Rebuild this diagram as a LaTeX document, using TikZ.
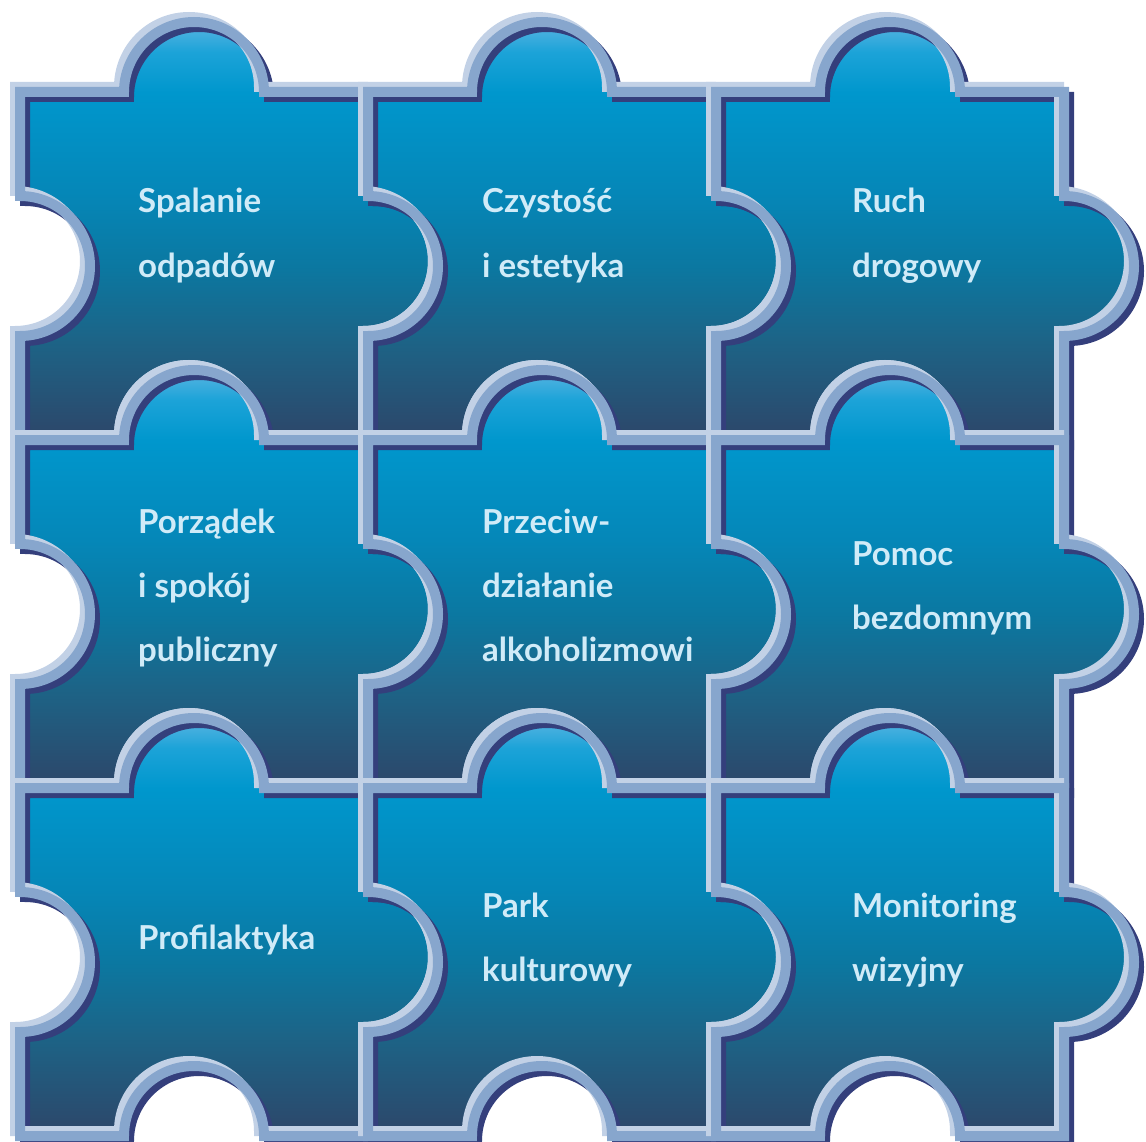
\documentclass[tikz,border=0pt]{standalone}
\usepackage{fontspec}
\setmainfont{Lato}
\definecolor{bdlight}{HTML}{C2D1E6}
\definecolor{bdmid}{HTML}{87A6CD}
\definecolor{bddark}{HTML}{343F7C}
\definecolor{pknob}{HTML}{5AB5E2}
\definecolor{pknobb}{HTML}{1CA3D8}
\definecolor{ptop}{HTML}{0097CD}
\definecolor{pupper}{HTML}{0587B8}
\definecolor{pmid}{HTML}{0B78A1}
\definecolor{plow}{HTML}{1D6386}
\definecolor{pbot}{HTML}{2D4669}
\definecolor{txt}{HTML}{D0EBF8}
\pgfdeclareverticalshading{pzshade}{100bp}{color(0bp)=(pbot); color(25bp)=(pbot); color(36.7bp)=(plow); color(45.8bp)=(pmid); color(54.7bp)=(pupper); color(66.6bp)=(ptop); color(71.4bp)=(pknobb); color(75bp)=(pknob); color(100bp)=(pknob)}
\newcommand\pzpath[2]{(#1,#2) -- ++(104,0) arc[start angle=180,end angle=0,radius=70] -- ++(104,0) -- ++(0,-104) arc[start angle=90,end angle=-90,radius=70] -- ++(0,-104) -- ++(-104,0) arc[start angle=0,end angle=180,radius=70] -- ++(-104,0) -- ++(0,104) arc[start angle=-90,end angle=90,radius=70] -- cycle}
\tikzset{
  bdk/.style={draw=bddark, line width=10pt, line join=miter},
  blt/.style={draw=bdlight, line width=10pt, line join=miter},
  bmd/.style={draw=bdmid, line width=10pt, line join=miter},
  lbl/.style={text=txt, font=\fontsize{33}{33}\selectfont\bfseries, inner sep=0pt, anchor=base west}
}
\begin{document}
\begin{tikzpicture}[x=1pt,y=1pt]
\useasboundingbox (0,0) rectangle (1146,-1142);
\foreach \r in {0,1,2} {
  \foreach \c in {0,1,2} {
    \pgfmathsetmacro\px{20+348*\c}
    \pgfmathsetmacro\py{-92-348*\r}
    \shade[shading=pzshade] \pzpath{\px}{\py};
    \path[bdk] \pzpath{\px+5}{\py-5};
    \path[blt] \pzpath{\px-5}{\py+5};
    \path[bmd] \pzpath{\px}{\py};
  }
}
% row 1
\node[lbl] (t11a) at (138,-213) {Spalanie};
\node[lbl] (t11b) at (138,-277) {odpadów};
\node[lbl] (t12a) at (482,-213) {Czystość};
\node[lbl] (t12b) at (482,-277) {i estetyka};
\node[lbl] (t13a) at (852,-213) {Ruch};
\node[lbl] (t13b) at (852,-277) {drogowy};
% row 2
\node[lbl] (t21a) at (138,-533) {Porządek};
\node[lbl] (t21b) at (138,-597) {i spokój};
\node[lbl] (t21c) at (138,-661) {publiczny};
\node[lbl] (t22a) at (482,-533) {Przeciw-};
\node[lbl] (t22b) at (482,-597) {działanie};
\node[lbl] (t22c) at (482,-661) {alkoholizmowi};
\node[lbl] (t23a) at (852,-565) {Pomoc};
\node[lbl] (t23b) at (852,-629) {bezdomnym};
% row 3
\node[lbl] (t31a) at (138,-949) {Profilaktyka};
\node[lbl] (t32a) at (482,-917) {Park};
\node[lbl] (t32b) at (482,-981) {kulturowy};
\node[lbl] (t33a) at (852,-917) {Monitoring};
\node[lbl] (t33b) at (852,-981) {wizyjny};
\end{tikzpicture}
\end{document}
